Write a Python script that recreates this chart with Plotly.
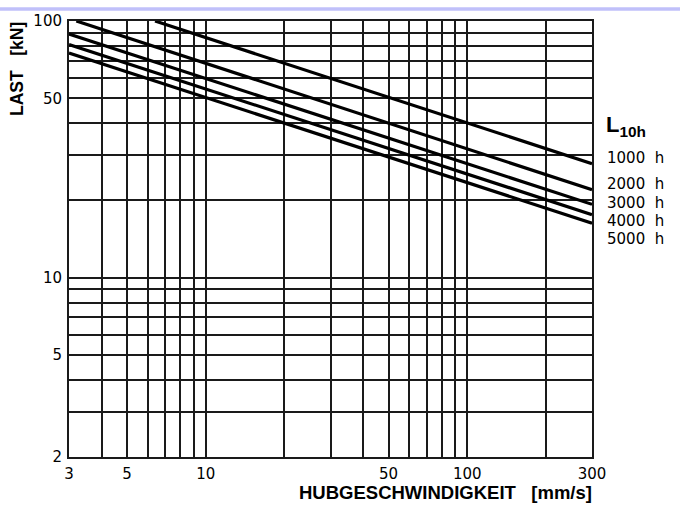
import plotly.graph_objects as go
import math

# Data: straight lines in log-log space, endpoints
series_names = ["1000 h", "2000 h", "3000 h", "4000 h", "5000 h"]
x_1000 = [6.4, 300]
y_1000 = [100, 27.8]
x_2000 = [3.2, 300]
y_2000 = [100, 22.0]
x_3000 = [3, 300]
y_3000 = [89, 19.3]
x_4000 = [3, 300]
y_4000 = [81, 17.6]
x_5000 = [3, 300]
y_5000 = [75, 16.3]

x_grid = [3, 4, 5, 6, 7, 8, 9, 10, 20, 30, 40, 50, 60, 70, 80, 90, 100, 200, 300]
x_labels = ["3", "", "5", "", "", "", "", "10", "", "", "", "50", "", "", "", "", "100", "", "300"]
y_grid = [2, 3, 4, 5, 6, 7, 8, 9, 10, 20, 30, 40, 50, 60, 70, 80, 90, 100]
y_labels = ["2", "", "", "5", "", "", "", "", "10", "", "", "", "50", "", "", "", "", "100"]

W, H = 680, 508
L, R, T, B = 69, 88, 14, 51
ph = H - T - B

fig = go.Figure()
for xs, ys, nm in [(x_1000, y_1000, series_names[0]), (x_2000, y_2000, series_names[1]),
                   (x_3000, y_3000, series_names[2]), (x_4000, y_4000, series_names[3]),
                   (x_5000, y_5000, series_names[4])]:
    fig.add_trace(go.Scatter(x=xs, y=ys, mode="lines", name=nm,
                             line=dict(color="black", width=3.2), hoverinfo="skip",
                             cliponaxis=True))

tick_font = dict(family="DejaVu Sans, Liberation Sans, sans-serif", size=15, color="black")

fig.update_xaxes(type="log", range=[math.log10(3), math.log10(300)],
                 tickvals=x_grid, ticktext=x_labels, ticks="", tickfont=tick_font,
                 ticklabelstandoff=2,
                 showgrid=True, gridcolor="#1a1a1a", gridwidth=1.5,
                 showline=True, linecolor="#1a1a1a", linewidth=2, mirror=True,
                 zeroline=False)
fig.update_yaxes(type="log", range=[math.log10(2), 2],
                 tickvals=y_grid, ticktext=y_labels, ticks="", tickfont=tick_font,
                 ticklabelstandoff=2,
                 showgrid=True, gridcolor="#1a1a1a", gridwidth=1.5,
                 showline=True, linecolor="#1a1a1a", linewidth=2, mirror=True,
                 zeroline=False)

def py(pixel_y):
    return (H - B - pixel_y) / ph

annos = []
label_font = dict(family="DejaVu Sans, Liberation Sans, sans-serif", size=15, color="black")
label_pix_y = [153, 180, 199, 217, 235]
for nm, yp in zip(series_names, label_pix_y):
    annos.append(dict(text=nm.replace(" ", "&nbsp;&nbsp;"), xref="paper", yref="paper",
                      x=1, xshift=13, y=py(yp), xanchor="left", yanchor="middle",
                      showarrow=False, font=label_font))
annos.append(dict(text="<b>L<sub>10h</sub></b>", xref="paper", yref="paper",
                  x=1, xshift=12, y=py(121), xanchor="left", yanchor="middle",
                  showarrow=False,
                  font=dict(family="Liberation Sans, Arial, sans-serif", size=22, color="black")))
annos.append(dict(text="<b>HUBGESCHWINDIGKEIT&nbsp;&nbsp;&nbsp;[mm/s]</b>", xref="paper", yref="paper",
                  x=1, xshift=2, y=py(493), xanchor="right", yanchor="middle",
                  showarrow=False,
                  font=dict(family="Liberation Sans, Arial, sans-serif", size=18.5, color="black")))
annos.append(dict(text="<b>LAST&nbsp;&nbsp;&nbsp;[kN]</b>", xref="paper", yref="paper",
                  x=0, xshift=-52, y=py(13), xanchor="center", yanchor="top",
                  textangle=-90, showarrow=False,
                  font=dict(family="Liberation Sans, Arial, sans-serif", size=17.5, color="black")))

fig.update_layout(width=W, height=H, margin=dict(l=L, r=R, t=T, b=B),
                  paper_bgcolor="white", plot_bgcolor="white", showlegend=False,
                  annotations=annos,
                  shapes=[dict(type="rect", xref="paper", yref="paper",
                               x0=-0.2, x1=1.3, y0=py(0), y1=py(3.5),
                               fillcolor="#c0c0fa", line=dict(width=0), layer="above")])

fig.write_html("out.html")
